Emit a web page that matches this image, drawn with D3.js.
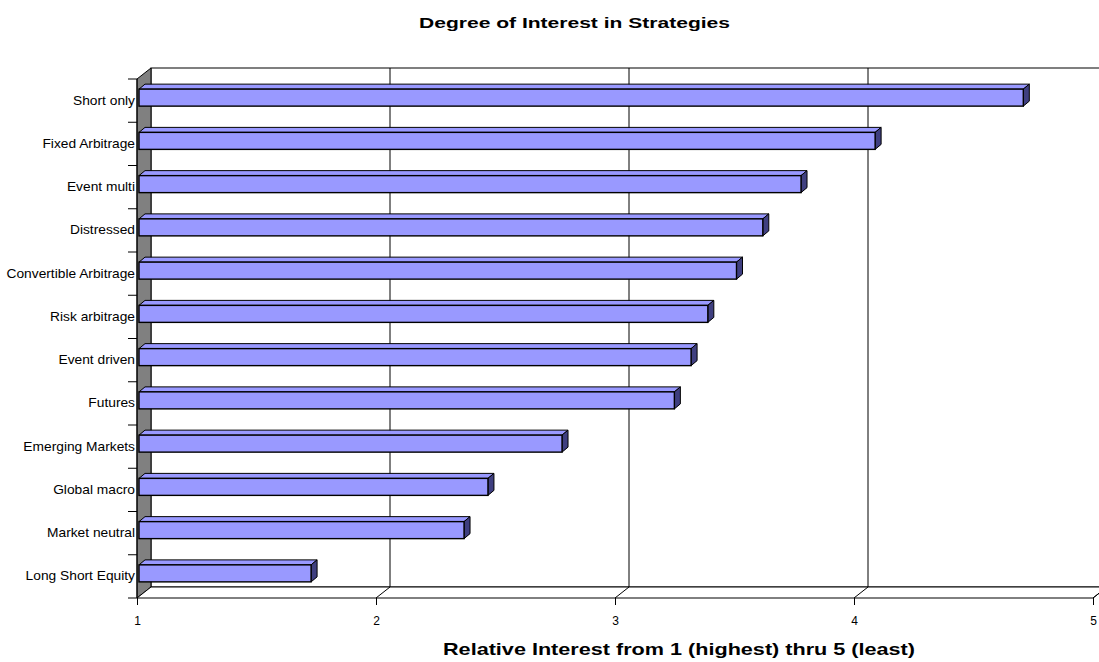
<!DOCTYPE html>
<html>
<head>
<meta charset="utf-8">
<script src="https://cdn.jsdelivr.net/npm/d3@7"></script>
<style>
  body { margin: 0; background: #fff; }
  text { font-family: "Liberation Sans", Arial, sans-serif; fill: #000; }
</style>
</head>
<body>
<div id="chart"></div>
<script>
// data, top to bottom
const categories = ["Short only", "Fixed Arbitrage", "Event multi", "Distressed",
  "Convertible Arbitrage", "Risk arbitrage", "Event driven", "Futures",
  "Emerging Markets", "Global macro", "Market neutral", "Long Short Equity"];
const values = [4.70, 4.08, 3.77, 3.61, 3.50, 3.38, 3.31, 3.24, 2.77, 2.46, 2.36, 1.72];
const xTicks = [1, 2, 3, 4, 5];

const W = 1099, H = 662;
const pLeft = 137, pRight = 1093, pTop = 79, pBottom = 598;
const depth = { dx: 14, dy: -11 };   // 3d offset of back wall
const bar = { dx: 6, dy: -5, h: 17, sx: 2, sy: -3 };

const svg = d3.select("#chart").append("svg")
  .attr("width", W).attr("height", H);

const x = d3.scaleLinear().domain([1, 5]).range([pLeft, pRight]);
const y = d3.scaleBand().domain(categories).range([pTop, pBottom]);

// back wall
svg.append("rect")
  .attr("x", pLeft + depth.dx).attr("y", pTop + depth.dy)
  .attr("width", pRight - pLeft).attr("height", pBottom - pTop)
  .attr("fill", "#fff").attr("stroke", "#000").attr("stroke-width", 1);

// left wall
svg.append("polygon")
  .attr("points", [[pLeft, pTop], [pLeft + depth.dx, pTop + depth.dy],
    [pLeft + depth.dx, pBottom + depth.dy], [pLeft, pBottom]].join(" "))
  .attr("fill", "#808080").attr("stroke", "#000").attr("stroke-width", 1);

// floor
svg.append("polygon")
  .attr("points", [[pLeft, pBottom], [pLeft + depth.dx, pBottom + depth.dy],
    [pRight + depth.dx, pBottom + depth.dy], [pRight, pBottom]].join(" "))
  .attr("fill", "#fff").attr("stroke", "#000").attr("stroke-width", 1);

// gridlines on wall and floor
const grid = svg.append("g").attr("stroke", "#000").attr("stroke-width", 1);
xTicks.slice(1).forEach(t => {
  grid.append("line")
    .attr("x1", x(t) + depth.dx).attr("x2", x(t) + depth.dx)
    .attr("y1", pTop + depth.dy).attr("y2", pBottom + depth.dy);
  grid.append("line")
    .attr("x1", x(t)).attr("x2", x(t) + depth.dx)
    .attr("y1", pBottom).attr("y2", pBottom + depth.dy);
});

// bars
const bars = svg.append("g").selectAll("g")
  .data(categories.map((c, i) => ({ c, v: values[i] })))
  .join("g");

bars.each(function(d) {
  const g = d3.select(this);
  const x0 = x(1) + bar.sx, x1 = x(d.v) + bar.sx;
  const y0 = y(d.c) + y.bandwidth() / 2 - bar.h / 2 + bar.sy, y1 = y0 + bar.h;
  g.append("polygon")
    .attr("points", [[x0, y0], [x0 + bar.dx, y0 + bar.dy], [x1 + bar.dx, y0 + bar.dy], [x1, y0]].join(" "))
    .attr("fill", "#9999ff").attr("stroke", "#000").attr("stroke-width", 1);
  g.append("polygon")
    .attr("points", [[x1, y0], [x1 + bar.dx, y0 + bar.dy], [x1 + bar.dx, y1 + bar.dy], [x1, y1]].join(" "))
    .attr("fill", "#3f3f80").attr("stroke", "#000").attr("stroke-width", 1);
  g.append("rect")
    .attr("x", x0).attr("y", y0).attr("width", x1 - x0).attr("height", bar.h)
    .attr("fill", "#9999ff").attr("stroke", "#000").attr("stroke-width", 1.4);
});

// y axis (front edge)
svg.append("line")
  .attr("x1", pLeft).attr("x2", pLeft).attr("y1", pTop).attr("y2", pBottom)
  .attr("stroke", "#000");
const yTickPos = d3.range(categories.length + 1).map(i => pTop + i * y.step());
svg.append("g").selectAll("line").data(yTickPos).join("line")
  .attr("x1", pLeft - 9).attr("x2", pLeft).attr("y1", d => d).attr("y2", d => d)
  .attr("stroke", "#000");
svg.append("g").selectAll("text").data(categories).join("text")
  .attr("transform", d => `translate(${pLeft - 2},${y(d) + y.bandwidth() / 2 + 4}) scale(1.06,1)`)
  .attr("text-anchor", "end").attr("font-size", 13)
  .text(d => d);

// x axis
svg.append("g")
  .attr("transform", `translate(0,${pBottom})`)
  .call(d3.axisBottom(x).tickValues(xTicks).tickFormat(d3.format("d")).tickSize(7).tickPadding(11))
  .call(g => g.select(".domain").remove())
  .call(g => g.selectAll("text").attr("font-size", 12).attr("font-family", "Liberation Sans, Arial, sans-serif"));

// titles
svg.append("text")
  .attr("x", 419).attr("y", 28)
  .attr("font-size", 15).attr("font-weight", "bold")
  .attr("textLength", 311).attr("lengthAdjust", "spacingAndGlyphs")
  .text("Degree of Interest in Strategies");

svg.append("text")
  .attr("x", 443).attr("y", 655)
  .attr("font-size", 17).attr("font-weight", "bold")
  .attr("textLength", 472).attr("lengthAdjust", "spacingAndGlyphs")
  .text("Relative Interest from 1 (highest) thru 5 (least)");
</script>
</body>
</html>
